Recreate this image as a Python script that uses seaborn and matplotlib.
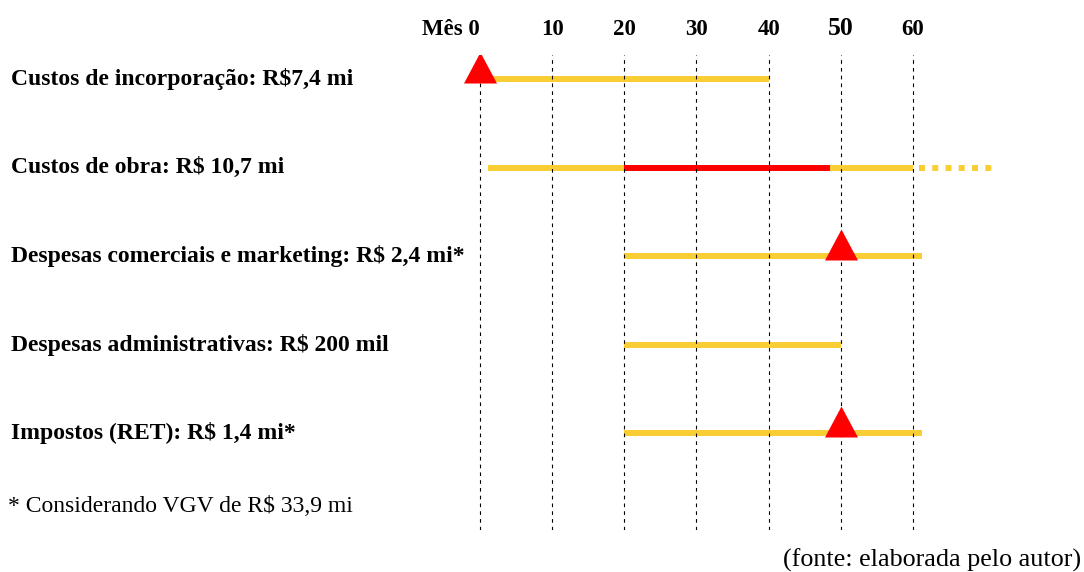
import matplotlib
matplotlib.use("Agg")
import matplotlib.pyplot as plt
from matplotlib.path import Path
from matplotlib.transforms import blended_transform_factory
import seaborn as sns
import pandas as pd

# ---------------- data ----------------
categorias = [
    "Custos de incorporação: R$7,4 mi",
    "Custos de obra: R$ 10,7 mi",
    "Despesas comerciais e marketing: R$ 2,4 mi*",
    "Despesas administrativas: R$ 200 mil",
    "Impostos (RET): R$ 1,4 mi*",
]
meses_ticks = [0, 10, 20, 30, 40, 50, 60]
rotulos_ticks = ["Mês 0", "10", "20", "30", "40", "50", "60"]

# continuous segments (row index, start month, end month, colour key)
seg_linha = [0, 1, 1, 1, 2, 3, 4]
seg_inicio = [0.0, 1.1, 20.0, 48.5, 20.0, 20.0, 20.0]
seg_fim = [40.0, 20.0, 48.5, 60.0, 61.2, 50.0, 61.2]
seg_cor = ["amarelo", "amarelo", "vermelho", "amarelo", "amarelo", "amarelo", "amarelo"]

# dotted continuation
pont_linha = [1]
pont_inicio = [60.8]
pont_fim = [70.9]

# triangle markers (row index, month)
marco_linha = [0, 2, 4]
marco_mes = [0, 50, 50]

nota = "* Considerando VGV de R$ 33,9 mi"
fonte = "(fonte: elaborada pelo autor)"

# ---------------- style ----------------
AMARELO = "#F9CE34"
VERMELHO = "#FF0000"

sns.set_theme(style="white")
plt.rcParams["font.family"] = ["Liberation Serif", "DejaVu Serif"]

W, H = 1084, 572
fig = plt.figure(figsize=(W / 100, H / 100), dpi=100)
ax = fig.add_axes([0.42283, 0.07343, 0.51928, 0.83042])

rows = []
for i, (r, a, b, c) in enumerate(zip(seg_linha, seg_inicio, seg_fim, seg_cor)):
    rows.append({"seg": i, "mes": a, "linha": r, "cor": c})
    rows.append({"seg": i, "mes": b, "linha": r, "cor": c})
seg_df = pd.DataFrame(rows)

prow = []
for i, (r, a, b) in enumerate(zip(pont_linha, pont_inicio, pont_fim)):
    prow.append({"seg": i, "mes": a, "linha": r})
    prow.append({"seg": i, "mes": b, "linha": r})
pont_df = pd.DataFrame(prow)

marco_df = pd.DataFrame({"mes": marco_mes, "linha": marco_linha})

sns.lineplot(data=seg_df, x="mes", y="linha", units="seg", estimator=None,
             hue="cor", palette={"amarelo": AMARELO, "vermelho": VERMELHO},
             linewidth=4.3, sort=False, legend=False, ax=ax,
             solid_capstyle="butt", zorder=2)
sns.lineplot(data=pont_df, x="mes", y="linha", units="seg", estimator=None,
             color=AMARELO, linewidth=4.3, sort=False, legend=False, ax=ax,
             linestyle=(0, (1, 1.22)), dash_capstyle="butt", zorder=2)

tri = Path([(-16.5, -4.0), (16.5, -4.0), (0.0, 27.0), (-16.5, -4.0)],
           [Path.MOVETO, Path.LINETO, Path.LINETO, Path.CLOSEPOLY])
sns.scatterplot(data=marco_df, x="mes", y="linha", marker=tri, s=38.9 ** 2,
                color=VERMELHO, linewidth=0, ax=ax, zorder=3, legend=False)

ax.set_xlim(-3, 75)
ax.set_ylim(5.097, -0.276)
for s in ax.spines.values():
    s.set_visible(False)
ax.set_xlabel("")
ax.set_ylabel("")
ax.set_yticks([])
ax.xaxis.tick_top()
ax.set_xticks(meses_ticks)
ax.set_xticklabels(rotulos_ticks)
ax.tick_params(axis="x", length=0, pad=11)
for lbl in ax.get_xticklabels():
    lbl.set_fontweight("bold")
    lbl.set_fontsize(16.5)
    lbl.set_color("black")
    if lbl.get_text() == "Mês 0":
        lbl.set_horizontalalignment("right")
    if lbl.get_text() == "50":
        lbl.set_fontsize(18.5)
ax.set_axisbelow(False)
ax.grid(axis="x", color="black", linestyle=(0, (3.3, 3.7)), linewidth=0.8)
ax.grid(axis="y", visible=False)

trans = blended_transform_factory(fig.transFigure, ax.transData)
for i, cat in enumerate(categorias):
    ax.text(11 / W, i, cat, transform=trans, ha="left", va="center",
            fontsize=17, fontweight="bold", color="black", clip_on=False)

fig.text(8 / W, 1 - 507 / H, nota, ha="left", va="center", fontsize=17, color="black")
fig.text(1081 / W, 1 - 560 / H, fonte, ha="right", va="center", fontsize=18.8, color="black")

fig.savefig("out.png", dpi=100)
